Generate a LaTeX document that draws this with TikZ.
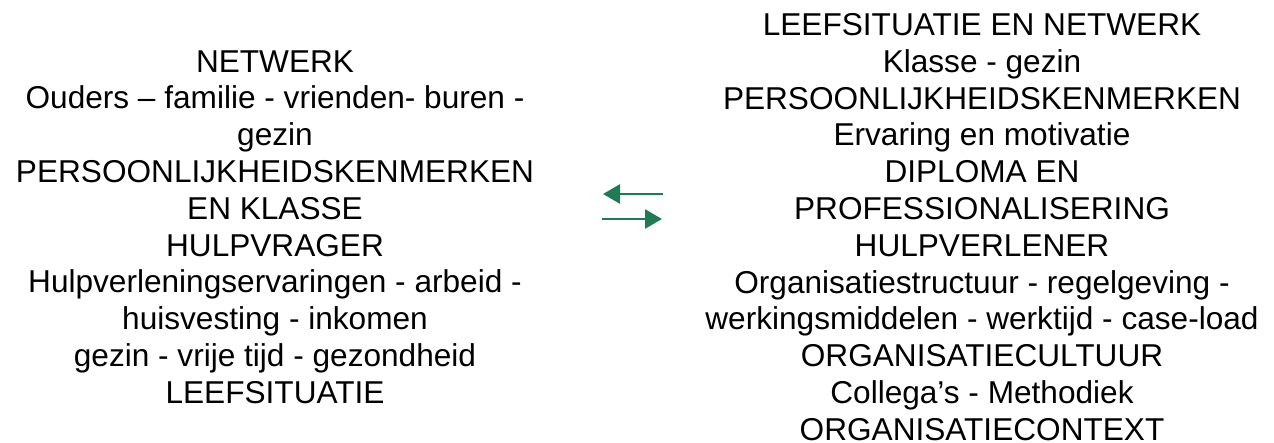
\documentclass[tikz,border=0pt]{standalone}
\usepackage{fontspec}
\setmainfont{Liberation Sans}
\usepackage{tikz}
\usetikzlibrary{arrows.meta}

\definecolor{arrowgreen}{RGB}{30,124,84}

\begin{document}
\begin{tikzpicture}[x=0.5pt, y=-0.5pt,
    every node/.style={align=center, inner sep=0pt, anchor=north,
        font=\fontsize{15.8}{18.4}\selectfont},
    swap/.style={draw=arrowgreen, line width=1.35pt,
        -{Triangle[length=8.5pt, width=9.5pt]}}]
    \useasboundingbox (0,0) rectangle (1274,443);

    \node (hulpvrager) at (275,50) {NETWERK\\
        Ouders -- familie - vrienden- buren -\\
        gezin\\
        PERSOONLIJKHEIDSKENMERKEN\\
        EN KLASSE\\
        HULPVRAGER\\
        Hulpverleningservaringen - arbeid -\\
        huisvesting - inkomen\\
        gezin - vrije tijd - gezondheid\\
        LEEFSITUATIE};
    \node (hulpverlener) at (982,13) {LEEFSITUATIE EN NETWERK\\
        Klasse - gezin\\
        PERSOONLIJKHEIDSKENMERKEN\\
        Ervaring en motivatie\\
        DIPLOMA EN\\
        PROFESSIONALISERING\\
        HULPVERLENER\\
        Organisatiestructuur - regelgeving -\\
        werkingsmiddelen - werktijd - case-load\\
        ORGANISATIECULTUUR\\
        Collega's - Methodiek\\
        ORGANISATIECONTEXT};

    \coordinate (topR) at (663,194);
    \coordinate (topL) at (603,194);
    \coordinate (botL) at (602,219);
    \coordinate (botR) at (662,219);

    \draw[swap] (topR) -- (topL);
    \draw[swap] (botL) -- (botR);
\end{tikzpicture}
\end{document}
